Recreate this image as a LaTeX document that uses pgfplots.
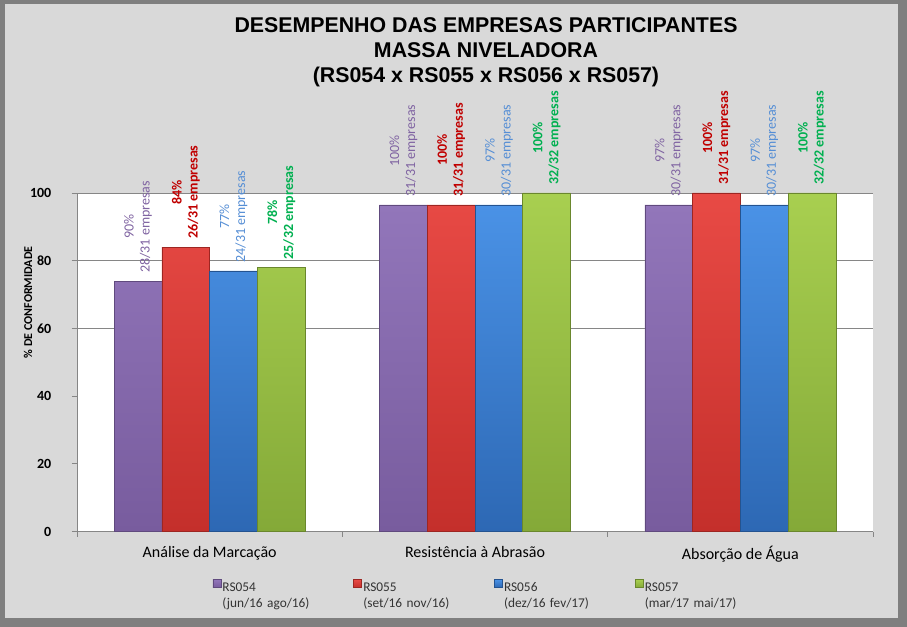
\documentclass[border=0pt]{standalone}
\usepackage{pgfplots}
\pgfplotsset{compat=1.18}
\usepackage{fontspec}
\setmainfont{Carlito}
\newfontfamily\titlefont{Liberation Sans}
\definecolor{frame}{HTML}{7F7F7F}
\definecolor{bg}{HTML}{D9D9D9}
\definecolor{axgray}{HTML}{868686}
\definecolor{puT}{HTML}{9276BA}
\definecolor{puB}{HTML}{785C9E}
\definecolor{reT}{HTML}{E84A45}
\definecolor{reB}{HTML}{C42F2B}
\definecolor{blT}{HTML}{4A92E6}
\definecolor{blB}{HTML}{2D68B4}
\definecolor{grT}{HTML}{A8CF50}
\definecolor{grB}{HTML}{84A938}
\definecolor{puL}{HTML}{8064A2}
\definecolor{reL}{HTML}{C00000}
\definecolor{blL}{HTML}{558ED5}
\definecolor{grL}{HTML}{00B050}
\begin{document}
\begin{tikzpicture}
\path[use as bounding box] (0,0) rectangle (680.25pt,470.25pt);
\fill[frame] (0,0) rectangle (680.25pt,470.25pt);
\fill[bg] (3.75pt,6.75pt) rectangle (673.5pt,467.25pt);
\node[align=center,font=\titlefont\bfseries\fontsize{16}{18.5}\selectfont] at (364.5pt,431pt)
  {DESEMPENHO DAS EMPRESAS PARTICIPANTES\\MASSA NIVELADORA\\(RS054 x RS055 x RS056 x RS057)};
\begin{axis}[
  at={(57.75pt,71.6pt)}, anchor=south west,
  scale only axis, width=597pt, height=253.9pt,
  ybar, clip=false,
  xmin=-0.5, xmax=2.5, ymin=0, ymax=100,
  /pgf/number format/assume math mode=true,
  axis background/.style={fill=white},
  axis x line*=bottom, axis y line*=left,
  axis line style={draw=axgray, line width=0.6pt},
  xtick={-0.5,0.5,1.5,2.5},
  x tick label as interval,
  xticklabels={Análise da Marcação,Resistência à Abrasão,Absorção de Água},
  xticklabel style={font=\fontsize{12}{14}\selectfont, text=black, yshift=-4pt},
  ytick={0,20,40,60,80,100},
  yticklabel style={font=\bfseries\fontsize{10.5}{12}\selectfont, text=black, xshift=-12pt},
  tick align=outside, major tick length=3.75pt,
  tick style={draw=axgray, line width=0.6pt},
  extra y ticks={60,80,100}, extra y tick labels={},
  extra y tick style={grid=major, major grid style={draw=axgray, line width=0.6pt}},
  ylabel={\% DE CONFORMIDADE},
  ylabel style={at={(axis description cs:-0.0616,0.677)}, anchor=center, font=\bfseries\fontsize{9}{11}\selectfont},
  bar width=0.18,
  point meta=explicit symbolic,
  nodes near coords,
  nodes near coords style={rotate=90, anchor=west, align=center, inner sep=6pt, font=\fontsize{10.5}{12}\selectfont},
  legend image code/.code={\draw[#1, line width=0.4pt] (0pt,0.5pt) rectangle (6pt,6.5pt);},
  legend columns=4,
  legend cell align=left,
  legend style={at={(axis description cs:0.170,-0.140)}, anchor=north west, draw=none, fill=none,
    inner sep=0pt, font=\fontsize{10}{12}\selectfont, text=black!80,
    nodes={inner sep=1pt},
    /tikz/every even column/.append style={text width=97.2pt, align=left}},
]
\addplot[bar shift=-0.27, draw=puB!80!black, top color=puT, bottom color=puB,
  every node near coord/.append style={text=puL}] coordinates {
  (0,74) [{90\%\\28/31 empresas}]
  (1,96.5) [{100\%\\31/31 empresas}]
  (2,96.5) [{97\%\\30/31 empresas}]
};
\addlegendentry{RS054\\(jun/16 ago/16)}
\addplot[bar shift=-0.09, draw=reB!80!black, top color=reT, bottom color=reB,
  every node near coord/.append style={text=reL, font=\bfseries\fontsize{10.5}{12}\selectfont}] coordinates {
  (0,84) [{84\%\\26/31 empresas}]
  (1,96.5) [{100\%\\31/31 empresas}]
  (2,100) [{100\%\\31/31 empresas}]
};
\addlegendentry{RS055\\(set/16 nov/16)}
\addplot[bar shift=0.09, draw=blB!80!black, top color=blT, bottom color=blB,
  every node near coord/.append style={text=blL}] coordinates {
  (0,77) [{77\%\\24/31 empresas}]
  (1,96.5) [{97\%\\30/31 empresas}]
  (2,96.5) [{97\%\\30/31 empresas}]
};
\addlegendentry{RS056\\(dez/16 fev/17)}
\addplot[bar shift=0.27, draw=grB!80!black, top color=grT, bottom color=grB,
  every node near coord/.append style={text=grL, font=\bfseries\fontsize{10.5}{12}\selectfont}] coordinates {
  (0,78) [{78\%\\25/32 empresas}]
  (1,100) [{100\%\\32/32 empresas}]
  (2,100) [{100\%\\32/32 empresas}]
};
\addlegendentry{RS057\\(mar/17 mai/17)}
\end{axis}
\end{tikzpicture}
\end{document}
